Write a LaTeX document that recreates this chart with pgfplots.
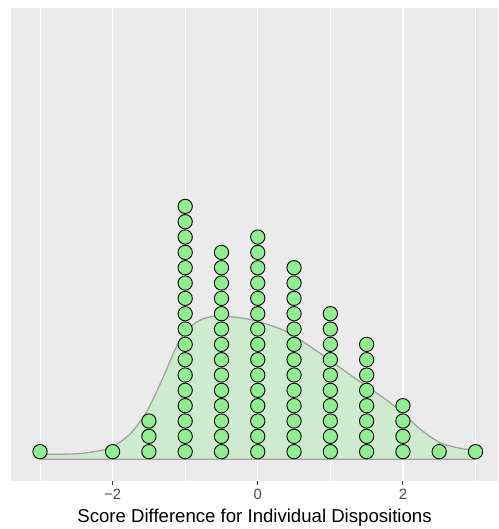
\documentclass[border=0pt]{standalone}
\usepackage{pgfplots}
\pgfplotsset{compat=1.18}
\usepackage{fontspec}
\setmainfont{Liberation Sans}
\definecolor{panelgray}{HTML}{EBEBEB}
\definecolor{lightgreen}{HTML}{90EE90}
\definecolor{tickgray}{HTML}{4D4D4D}
\definecolor{tickmark}{HTML}{333333}
\definecolor{densline}{HTML}{A3A3A3}
\begin{document}
\begin{tikzpicture}
\begin{axis}[
  scale only axis,
  width=487pt, height=472.3pt,
  xmin=-3.40, xmax=3.31,
  ymin=-1.40, ymax=29.41,
  axis background/.style={fill=panelgray},
  axis line style={draw=none},
  ytick=\empty,
  xtick={-2,0,2},
  xticklabels={{−2},{0},{2}},
  minor xtick={-3,-1,1,3},
  xtick pos=bottom,
  xmajorgrids, xminorgrids,
  major grid style={white, line width=1.3pt},
  minor grid style={white, line width=0.65pt},
  tick align=outside,
  major tick length=4.6pt,
  minor tick length=0pt,
  x tick style={tickmark, line width=1pt},
  xticklabel style={font=\fontsize{14.9}{16}\selectfont, text=tickgray},
  xlabel={Score Difference for Individual Dispositions},
  xlabel style={font=\fontsize{18.6}{20}\selectfont, text=black, yshift=-3pt},
  clip=true,
]
% dots: stacks of equal values, centres at half-integer heights (dot units)
\addplot[only marks, mark=*, mark size=7.15pt,
  mark options={fill=lightgreen, draw=black, line width=0.9pt}]
coordinates {
(-3,0.5)
(-2,0.5)
(-1.5,0.5)(-1.5,1.5)(-1.5,2.5)
(-1,0.5)(-1,1.5)(-1,2.5)(-1,3.5)(-1,4.5)(-1,5.5)(-1,6.5)(-1,7.5)(-1,8.5)(-1,9.5)(-1,10.5)(-1,11.5)(-1,12.5)(-1,13.5)(-1,14.5)(-1,15.5)(-1,16.5)
(-0.5,0.5)(-0.5,1.5)(-0.5,2.5)(-0.5,3.5)(-0.5,4.5)(-0.5,5.5)(-0.5,6.5)(-0.5,7.5)(-0.5,8.5)(-0.5,9.5)(-0.5,10.5)(-0.5,11.5)(-0.5,12.5)(-0.5,13.5)
(0,0.5)(0,1.5)(0,2.5)(0,3.5)(0,4.5)(0,5.5)(0,6.5)(0,7.5)(0,8.5)(0,9.5)(0,10.5)(0,11.5)(0,12.5)(0,13.5)(0,14.5)
(0.5,0.5)(0.5,1.5)(0.5,2.5)(0.5,3.5)(0.5,4.5)(0.5,5.5)(0.5,6.5)(0.5,7.5)(0.5,8.5)(0.5,9.5)(0.5,10.5)(0.5,11.5)(0.5,12.5)
(1,0.5)(1,1.5)(1,2.5)(1,3.5)(1,4.5)(1,5.5)(1,6.5)(1,7.5)(1,8.5)(1,9.5)
(1.5,0.5)(1.5,1.5)(1.5,2.5)(1.5,3.5)(1.5,4.5)(1.5,5.5)(1.5,6.5)(1.5,7.5)
(2,0.5)(2,1.5)(2,2.5)(2,3.5)
(2.5,0.5)
(3,0.5)
};
% density curve (scaled to dot units)
\addplot[smooth, tension=0.5, fill=lightgreen, fill opacity=0.3, draw=densline, line width=1.3pt]
coordinates {
(-3.0,0.33)(-2.5,0.36)(-2.2,0.55)(-2.0,0.82)(-1.75,1.70)(-1.52,3.2)(-1.30,5.39)(-1.12,7.35)(-0.98,8.41)(-0.80,9.07)(-0.61,9.33)(-0.40,9.32)(-0.06,9.07)(0.40,8.32)(0.86,6.91)(1.31,5.39)(1.78,3.85)(2.0,3.0)(2.24,1.96)(2.51,1.09)(2.79,0.72)(3.0,0.59)
} \closedcycle;
\end{axis}
\pgfresetboundingbox
\path (current axis.south west) ++(-11pt,-48.2pt) rectangle (current axis.north east) ++(0pt,8.5pt);
\end{tikzpicture}
\end{document}
